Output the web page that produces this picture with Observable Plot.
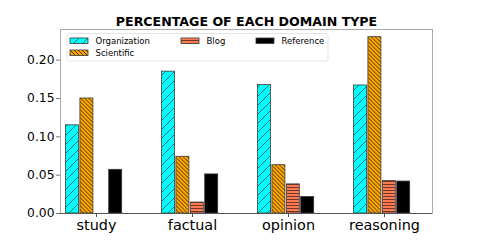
<!DOCTYPE html>
<html><head><meta charset="utf-8">
<script src="https://cdn.jsdelivr.net/npm/d3@7"></script>
<script src="https://cdn.jsdelivr.net/npm/@observablehq/plot@0.6"></script>
<style>
body{margin:0;background:#fff;}
#wrap{width:480px;height:240px;}
svg{font-family:"DejaVu Sans",sans-serif;}
</style></head><body><div id="wrap"></div>
<script>
const title = "PERCENTAGE OF EACH DOMAIN TYPE";
const categories = ["study", "factual", "opinion", "reasoning"];
const seriesNames = ["Organization", "Scientific", "Blog", "Reference"];
const organization = [0.115, 0.185, 0.1675, 0.167];
const scientific = [0.150, 0.074, 0.063, 0.230];
const blog = [0.000, 0.0143, 0.038, 0.0425];
const reference = [0.057, 0.051, 0.0216, 0.0417];
const yTicks = [0, 0.05, 0.10, 0.15, 0.20];

const seriesValues = [organization, scientific, blog, reference];
const fills = ["url(#pat-org)", "url(#pat-sci)", "url(#pat-blog)", "#000"];
const offsets = [-24, -9.6, 4.8, 19.2];

const barMarks = seriesValues.map((vals, k) =>
  Plot.barY(categories.map((c, i) => ({category: c, value: vals[i], series: seriesNames[k]})), {
    x: "category", y: "value", fill: fills[k], stroke: "#3a3a3a", strokeWidth: 0.8,
    insetLeft: 41.5, insetRight: 41.5, dx: offsets[k]
  })
);

const chart = Plot.plot({
  width: 480, height: 240,
  marginLeft: 60, marginRight: 48, marginTop: 29, marginBottom: 27,
  style: {fontFamily: "DejaVu Sans", background: "#fff", color: "#000"},
  x: {domain: categories, range: [48, 432], padding: 0},
  y: {domain: [0, 0.24]},
  marks: [
    ...barMarks,
    Plot.frame({stroke: "#aaa", strokeWidth: 1}),
    Plot.ruleY([0], {stroke: "#555", strokeWidth: 1.2}),
    Plot.axisY({ticks: yTicks, tickFormat: d3.format(".2f"), tickSize: 4, tickPadding: 2, fontSize: 12.3, label: null, stroke: "#777"}),
    Plot.axisX({tickSize: 4, tickPadding: 2, fontSize: 14.4, label: null, stroke: "#555"}),
    Plot.text([title], {frameAnchor: "top", lineAnchor: "bottom", dy: -4, fontSize: 12.6, fontWeight: "bold", fill: "#000"})
  ]
});
document.getElementById("wrap").appendChild(chart);

const svg = d3.select(chart);
const defs = svg.insert("defs", ":first-child");
const po = defs.append("pattern").attr("id", "pat-org").attr("patternUnits", "userSpaceOnUse").attr("width", 9).attr("height", 9);
po.append("rect").attr("width", 9).attr("height", 9).attr("fill", "#00ffff");
po.append("path").attr("d", "M0,9 L9,0 M-2,2 L2,-2 M7,11 L11,7").attr("stroke", "#2b5e62").attr("stroke-width", 0.9);
const ps = defs.append("pattern").attr("id", "pat-sci").attr("patternUnits", "userSpaceOnUse").attr("width", 4).attr("height", 4);
ps.append("rect").attr("width", 4).attr("height", 4).attr("fill", "#ffa500");
ps.append("path").attr("d", "M0,0 L4,4 M-1,3 L1,5 M3,-1 L5,1").attr("stroke", "#3a2a10").attr("stroke-width", 0.9);
const pb = defs.append("pattern").attr("id", "pat-blog").attr("patternUnits", "userSpaceOnUse").attr("width", 3).attr("height", 3);
pb.append("rect").attr("width", 3).attr("height", 3).attr("fill", "#ff7a50");
pb.append("path").attr("d", "M0,1.5 H3").attr("stroke", "#4a2a20").attr("stroke-width", 0.8);

// legend
const lg = svg.append("g").attr("font-family", "DejaVu Sans").attr("font-size", 8.5).attr("text-anchor", "start");
lg.append("rect").attr("x", 67).attr("y", 33.5).attr("width", 261).attr("height", 27.5).attr("rx", 2)
  .attr("fill", "#fff").attr("fill-opacity", 0.8).attr("stroke", "#ddd").attr("stroke-width", 0.8);
const pos = [[70, 38], [70, 50], [181, 38], [256, 38]];
seriesNames.forEach((name, k) => {
  const [x, y] = pos[k];
  lg.append("rect").attr("x", x).attr("y", y).attr("width", 18).attr("height", 5.5)
    .attr("fill", fills[k]).attr("stroke", "#3a3a3a").attr("stroke-width", 0.8);
  lg.append("text").attr("x", x + 25.5).attr("y", y + 2.9).attr("dominant-baseline", "central")
    .attr("text-anchor", "start").attr("fill", "#000").text(name);
});
</script></body></html>
